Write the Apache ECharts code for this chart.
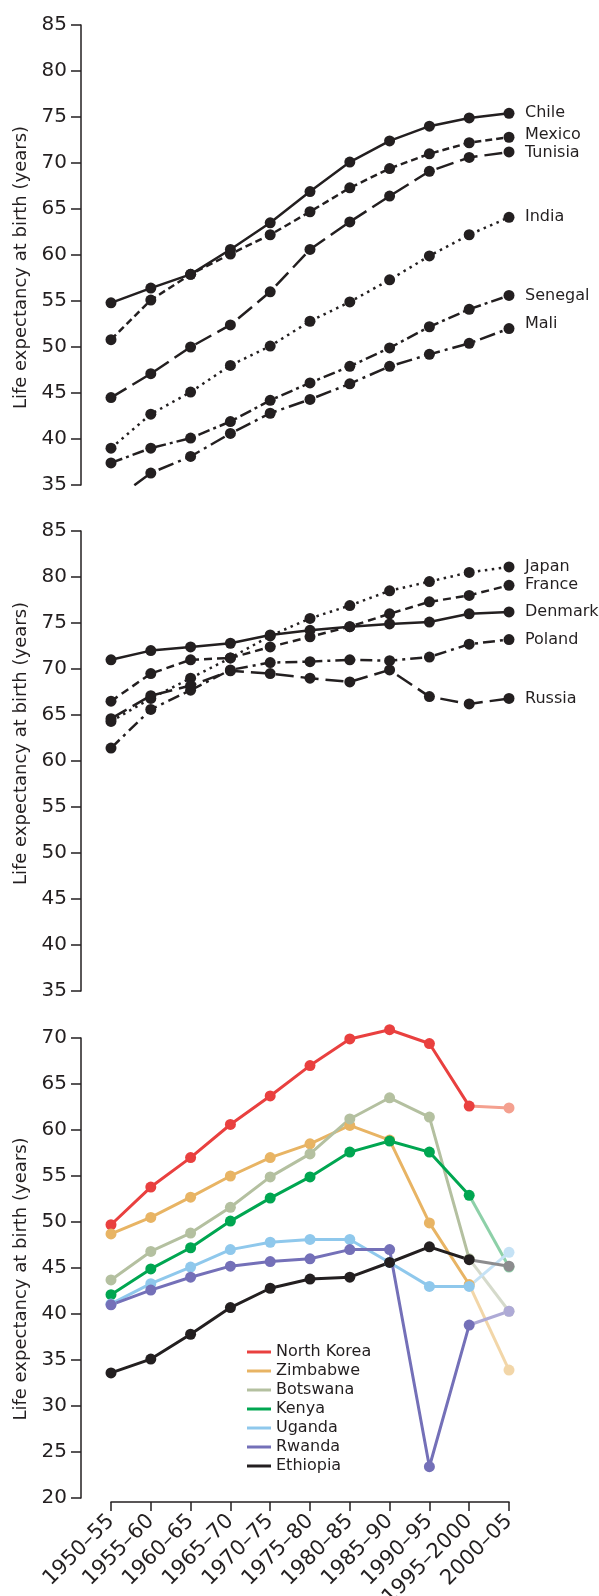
<!DOCTYPE html>
<html>
<head>
<meta charset="utf-8">
<script src="https://cdn.jsdelivr.net/npm/echarts@6/dist/echarts.min.js"></script>
<style>
html, body { margin: 0; padding: 0; background: #fff; }
#chart { width: 599px; height: 1596px; }
</style>
</head>
<body>
<div id="chart"></div>
<script>
const periods = ['1950–55', '1955–60', '1960–65', '1965–70', '1970–75', '1975–80', '1980–85', '1985–90', '1990–95', '1995–2000', '2000–05'];

// panel 1
const chile = [54.8, 56.4, 57.9, 60.6, 63.5, 66.9, 70.1, 72.4, 74.0, 74.9, 75.4];
const mexico = [50.8, 55.1, 57.9, 60.1, 62.2, 64.7, 67.3, 69.4, 71.0, 72.2, 72.8];
const tunisia = [44.5, 47.1, 50.0, 52.4, 56.0, 60.6, 63.6, 66.4, 69.1, 70.6, 71.2];
const india = [39.0, 42.7, 45.1, 48.0, 50.1, 52.8, 54.9, 57.3, 59.9, 62.2, 64.1];
const senegal = [37.4, 39.0, 40.1, 41.9, 44.2, 46.1, 47.9, 49.9, 52.2, 54.1, 55.6];
const mali = [33.1, 36.3, 38.1, 40.6, 42.8, 44.3, 46.0, 47.9, 49.2, 50.4, 52.0];

// panel 2
const japan = [64.3, 66.8, 69.0, 71.2, 73.6, 75.5, 76.9, 78.5, 79.5, 80.5, 81.1];
const france = [66.5, 69.5, 71.0, 71.2, 72.4, 73.5, 74.6, 76.0, 77.3, 78.0, 79.1];
const denmark = [71.0, 72.0, 72.4, 72.8, 73.7, 74.2, 74.6, 74.9, 75.1, 76.0, 76.2];
const poland = [61.4, 65.6, 67.7, 69.9, 70.7, 70.8, 71.0, 70.9, 71.3, 72.7, 73.2];
const russia = [64.6, 67.1, 68.2, 69.8, 69.5, 69.0, 68.6, 69.9, 67.0, 66.2, 66.8];

// panel 3
const northKorea = [49.7, 53.8, 57.0, 60.6, 63.7, 67.0, 69.9, 70.9, 69.4, 62.6, 62.4];
const zimbabwe = [48.7, 50.5, 52.7, 55.0, 57.0, 58.5, 60.5, 58.9, 49.9, 43.2, 33.9];
const botswana = [43.7, 46.8, 48.8, 51.6, 54.9, 57.4, 61.2, 63.5, 61.4, 46.0, 40.3];
const kenya = [42.1, 44.9, 47.2, 50.1, 52.6, 54.9, 57.6, 58.8, 57.6, 52.9, 45.1];
const uganda = [41.1, 43.3, 45.1, 47.0, 47.8, 48.1, 48.1, 45.6, 43.0, 43.0, 46.7];
const rwanda = [41.0, 42.6, 44.0, 45.2, 45.7, 46.0, 47.0, 47.0, 23.4, 38.8, 40.3];
const ethiopia = [33.6, 35.1, 37.8, 40.7, 42.8, 43.8, 44.0, 45.6, 47.3, 45.9, 45.2];

const ink = '#231f20';
const font = 'DejaVu Sans';
const yTitle = 'Life expectancy at birth (years)';

function yAx(gi, min, max, pad) {
    return {
        type: 'value', gridIndex: gi, min: min, max: max, interval: 5, offset: 30,
        name: yTitle, nameLocation: 'middle', nameGap: 48,
        nameTextStyle: { fontSize: 18, color: ink, fontFamily: font, padding: pad },
        axisLine: { show: true, lineStyle: { color: ink, width: 1.5 } },
        axisTick: { show: true, length: 10, lineStyle: { color: ink, width: 1.5 } },
        axisLabel: { fontSize: 20, color: ink, fontFamily: font, margin: 14 },
        splitLine: { show: false },
    };
}

function xAx(gi, show) {
    return {
        type: 'category', gridIndex: gi, data: periods, boundaryGap: false, show: show, offset: 4,
        axisLine: { show: true, lineStyle: { color: ink, width: 1.5 } },
        axisTick: { show: true, length: 9, lineStyle: { color: ink, width: 1.5 } },
        axisLabel: { rotate: 45, fontSize: 21, color: ink, fontFamily: font, margin: 16, interval: 0 },
        splitLine: { show: false },
    };
}

function blk(name, data, gi, dash, dy) {
    return {
        type: 'line', name: name, data: data, xAxisIndex: gi, yAxisIndex: gi,
        symbol: 'circle', symbolSize: 11,
        lineStyle: { color: ink, width: 2.5, type: dash },
        itemStyle: { color: ink },
        endLabel: { show: true, formatter: name, distance: 16, offset: [0, dy], fontSize: 16, color: ink, fontFamily: font },
    };
}

function col(name, data, c) {
    return {
        type: 'line', name: name, data: data.slice(0, 10), xAxisIndex: 2, yAxisIndex: 2,
        symbol: 'circle', symbolSize: 11, clip: false,
        lineStyle: { color: c, width: 3 }, itemStyle: { color: c },
    };
}

// last period drawn in a faded tint
function tail(name, data, c) {
    return {
        type: 'line', name: name + ' ', data: data.map((v, i) => i < 9 ? '-' : (i === 9 ? { value: v, symbol: 'none' } : v)),
        xAxisIndex: 2, yAxisIndex: 2, symbol: 'circle', symbolSize: 11, clip: false,
        lineStyle: { color: c, width: 3 }, itemStyle: { color: c },
    };
}

const africa = [
    ['North Korea', northKorea, '#e9403f', '#f4a08f'],
    ['Zimbabwe', zimbabwe, '#e8b464', '#f2d6a8'],
    ['Botswana', botswana, '#b4c0a0', '#d5dacb'],
    ['Kenya', kenya, '#00a651', '#8dd0a8'],
    ['Uganda', uganda, '#8fc8ec', '#c5e2f5'],
    ['Rwanda', rwanda, '#7470b8', '#aeaad6'],
    ['Ethiopia', ethiopia, '#231f20', '#8c8c8e'],
];

const series = [
    blk('Chile', chile, 0, 'solid', 0),
    blk('Mexico', mexico, 0, [7, 4], -2),
    blk('Tunisia', tunisia, 0, [18, 7], 1),
    blk('India', india, 0, [2.5, 4.5], 0),
    blk('Senegal', senegal, 0, [12, 4, 3, 4], 0),
    blk('Mali', mali, 0, [16, 5, 3, 5], -5),
    blk('Japan', japan, 1, [2.5, 4.5], 0),
    blk('France', france, 1, [8, 5], 0),
    blk('Denmark', denmark, 1, 'solid', 0),
    blk('Poland', poland, 1, [12, 5, 3, 5], 0),
    blk('Russia', russia, 1, [18, 7], 0),
];
africa.forEach(a => series.push(col(a[0], a[1], a[2])));
africa.forEach(a => series.push(tail(a[0], a[1], a[3])));

const chart = echarts.init(document.getElementById('chart'));
chart.setOption({
    animation: false,
    backgroundColor: '#fff',
    textStyle: { fontFamily: font },
    grid: [
        { left: 111, width: 398, top: 25, height: 460, outerBoundsMode: 'none', containLabel: false },
        { left: 111, width: 398, top: 531, height: 460, outerBoundsMode: 'none', containLabel: false },
        { left: 111, width: 398, top: 1038, height: 460, outerBoundsMode: 'none', containLabel: false },
    ],
    xAxis: [xAx(0, false), xAx(1, false), xAx(2, true)],
    yAxis: [
        yAx(0, 35, 85, [0, 25, 0, 0]),
        yAx(1, 35, 85, [0, 0, 0, 35]),
        yAx(2, 20, 70, [0, 22, 0, 0]),
    ],
    legend: {
        orient: 'vertical', left: 242, top: 1339,
        data: africa.map(a => a[0]),
        icon: 'rect', itemWidth: 24, itemHeight: 3, itemGap: 3,
        textStyle: { fontSize: 16, lineHeight: 16, color: ink, fontFamily: font },
    },
    series: series,
});
</script>
</body>
</html>
